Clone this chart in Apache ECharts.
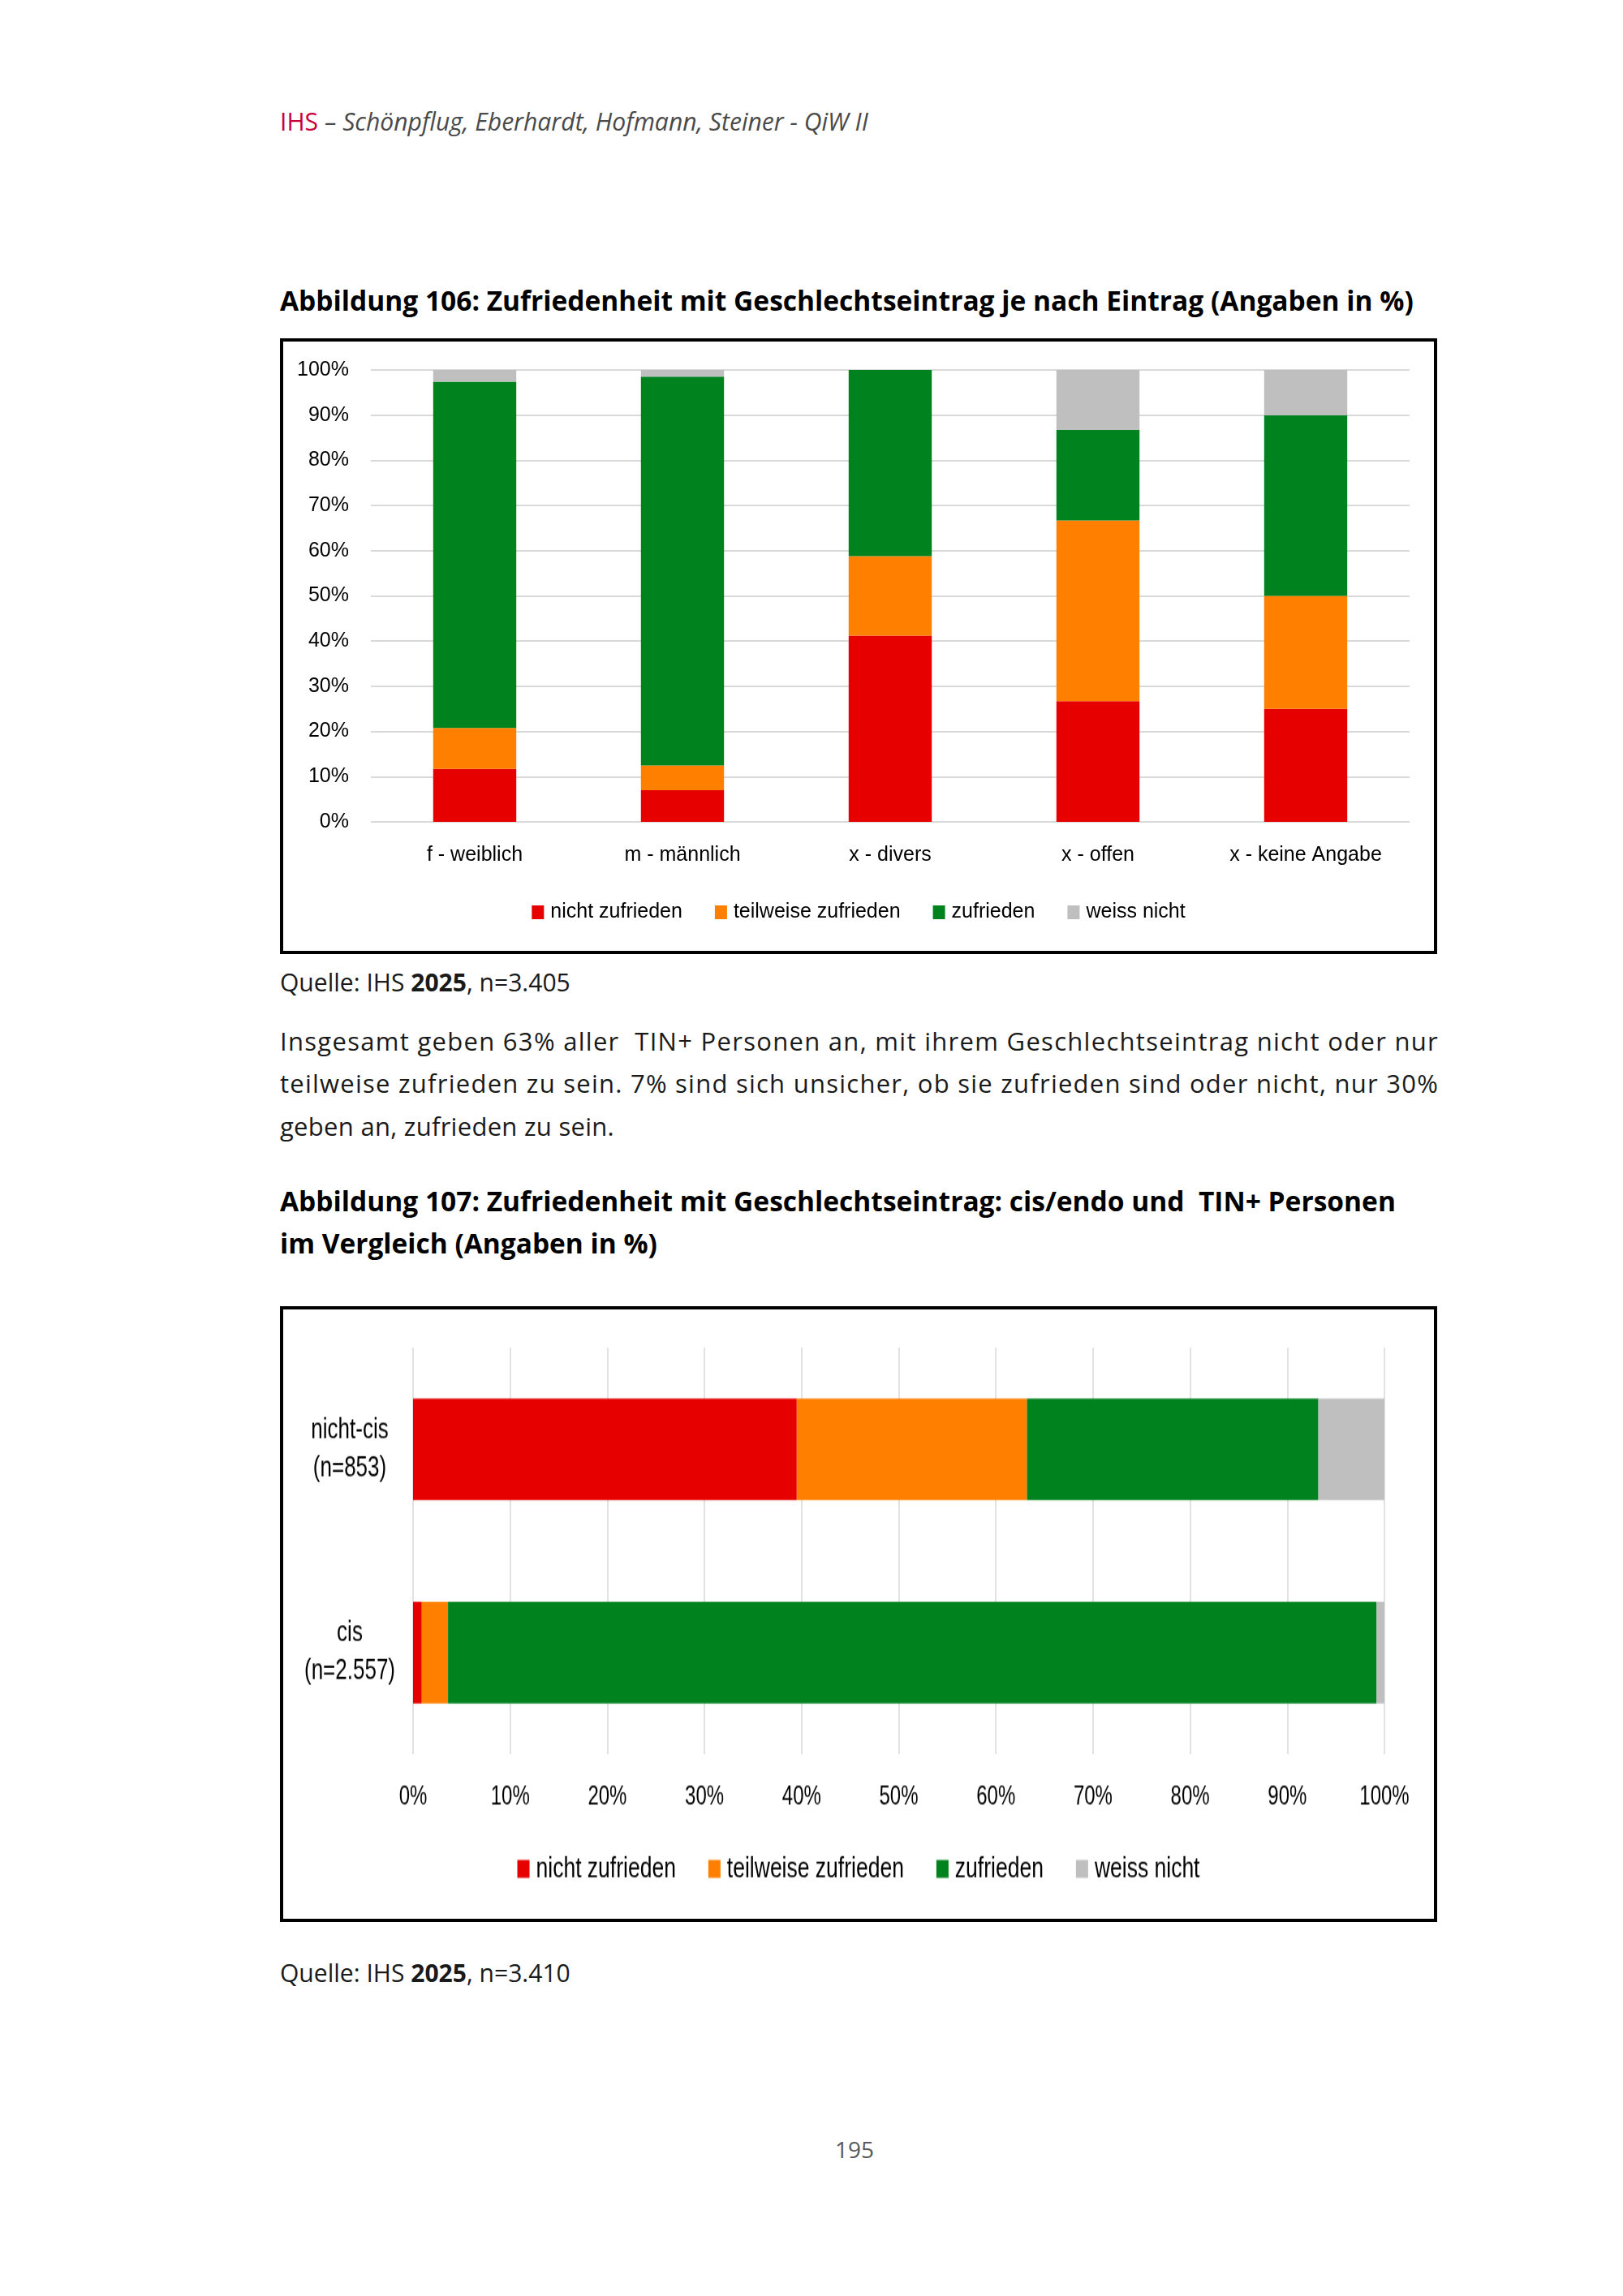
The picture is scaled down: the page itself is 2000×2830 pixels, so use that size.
<!DOCTYPE html>
<html>
<head>
<meta charset="utf-8">
<script src="https://cdn.jsdelivr.net/npm/echarts@6/dist/echarts.min.js"></script>
<style>
  html, body { margin:0; padding:0; background:#fff; }
  #page { position:relative; width:2000px; height:2830px; background:#fff; font-family:"Open Sans", sans-serif; color:#1a1a1a; overflow:hidden; }
  .t { position:absolute; left:345px; white-space:nowrap; }
  .box { position:absolute; left:345px; width:1426px; height:759px; box-sizing:border-box; border:4px solid #000; background:#fff; overflow:hidden; }
</style>
</head>
<body>
<div id="page">
  <div class="t" data-fit="725" style="top:130px; font-size:30px; line-height:40px; font-style:italic; color:#4a4a4a;"><span style="font-style:normal; color:#c8003c;">IHS</span> – Schönpflug, Eberhardt, Hofmann, Steiner - QiW II</div>

  <div class="t" data-fit="1397" style="top:349px; font-size:33px; line-height:42px; font-weight:bold; color:#000;">Abbildung 106: Zufriedenheit mit Geschlechtseintrag je nach Eintrag (Angaben in %)</div>

  <div class="box" id="c1" style="top:417px;"></div>

  <div class="t" data-fit="358" style="top:1190px; font-size:30px; line-height:42px;">Quelle: IHS <b>2025</b>, n=3.405</div>

  <div class="t" data-ls="1428" style="top:1262px; font-size:31px; line-height:42px;">Insgesamt geben 63% aller&nbsp; TIN+ Personen an, mit ihrem Geschlechtseintrag nicht oder nur</div>
  <div class="t" data-ls="1428" style="top:1314px; font-size:31px; line-height:42px;">teilweise zufrieden zu sein. 7% sind sich unsicher, ob sie zufrieden sind oder nicht, nur 30%</div>
  <div class="t" data-ls="412" style="top:1367px; font-size:31px; line-height:42px;">geben an, zufrieden zu sein.</div>

  <div class="t" data-fit="1375" style="top:1459px; font-size:33px; line-height:42px; font-weight:bold; color:#000;">Abbildung 107: Zufriedenheit mit Geschlechtseintrag: cis/endo und&nbsp; TIN+ Personen</div>
  <div class="t" data-fit="465" style="top:1511px; font-size:33px; line-height:42px; font-weight:bold; color:#000;">im Vergleich (Angaben in %)</div>

  <div class="box" style="top:1610px;"><div id="c2" style="width:1418px; height:544px; transform:scaleY(1.3805); transform-origin:0 0;"></div></div>

  <div class="t" data-fit="358" style="top:2411px; font-size:30px; line-height:42px;">Quelle: IHS <b>2025</b>, n=3.410</div>

  <div style="position:absolute; left:953px; width:200px; text-align:center; top:2629px; font-size:28px; line-height:40px; color:#595959;">195</div>
</div>
<script>
// ---------- Data: Abbildung 106 ----------
const categories1 = ['f - weiblich', 'm - männlich', 'x - divers', 'x - offen', 'x - keine Angabe'];
const nichtZufrieden1 = [11.7, 7.0, 41.2, 26.7, 25.0];
const teilweiseZufrieden1 = [9.1, 5.5, 17.6, 40.0, 25.0];
const zufrieden1 = [76.6, 86.0, 41.2, 20.0, 40.0];
const weissNicht1 = [2.6, 1.5, 0, 13.3, 10.0];

// ---------- Data: Abbildung 107 ----------
const categories2 = ['nicht-cis\n(n=853)', 'cis\n(n=2.557)'];
const nichtZufrieden2 = [39.5, 0.9];
const teilweiseZufrieden2 = [23.7, 2.7];
const zufrieden2 = [30.0, 95.6];
const weissNicht2 = [6.8, 0.8];

const seriesNames = ['nicht zufrieden', 'teilweise zufrieden', 'zufrieden', 'weiss nicht'];
const colors = ['#e60000', '#ff7f00', '#00821e', '#bfbfbf'];

const f1 = '"Liberation Sans", Arial, sans-serif';

// fit text widths of the page text
document.querySelectorAll('[data-fit]').forEach(el => {
  const target = +el.dataset.fit;
  const fs = parseFloat(el.style.fontSize);
  const w = el.getBoundingClientRect().width;
  el.style.fontSize = (fs * target / w).toFixed(2) + 'px';
});
document.querySelectorAll('[data-ls]').forEach(el => {
  const target = +el.dataset.ls;
  const w = el.getBoundingClientRect().width;
  const n = el.textContent.length;
  el.style.letterSpacing = ((target - w) / n).toFixed(3) + 'px';
});

function mkSeries(arrs, barWidth) {
  return arrs.map((d, i) => ({
    name: seriesNames[i], type: 'bar', stack: 'total', data: d,
    barWidth: barWidth, itemStyle: { color: colors[i] }
  }));
}

// ---------- Chart 1 ----------
const c1 = echarts.init(document.getElementById('c1'), null, { renderer: 'canvas' });
c1.setOption({
  animation: false,
  color: colors,
  grid: { left: 108, right: 30, top: 35, bottom: 159 },
  legend: {
    top: 686, left: 'center', icon: 'rect', itemWidth: 15, itemHeight: 17, itemGap: 40,
    data: seriesNames,
    textStyle: { fontFamily: f1, fontSize: 25, color: '#000', padding: [0, 0, 0, 3] }
  },
  xAxis: {
    type: 'category', data: categories1,
    axisLine: { show: false }, axisTick: { show: false },
    axisLabel: { margin: 29, fontFamily: f1, fontSize: 25, color: '#000' }
  },
  yAxis: {
    type: 'value', min: 0, max: 100, interval: 10,
    axisLine: { show: false }, axisTick: { show: false },
    axisLabel: { formatter: '{value}%', margin: 27, fontFamily: f1, fontSize: 25, color: '#000' },
    splitLine: { lineStyle: { color: '#d9d9d9', width: 2 } }
  },
  series: mkSeries([nichtZufrieden1, teilweiseZufrieden1, zufrieden1, weissNicht1], '40%')
});

// ---------- Chart 2 (drawn unstretched, then stretched vertically like the original figure) ----------
const c2 = echarts.init(document.getElementById('c2'), null, { renderer: 'canvas' });
c2.setOption({
  animation: false,
  color: colors,
  grid: { left: 160, right: 61, top: 34, bottom: 147 },
  legend: {
    top: 481, left: 'center', icon: 'rect', itemWidth: 15, itemHeight: 16, itemGap: 40,
    data: seriesNames,
    textStyle: { fontFamily: f1, fontSize: 26.5, color: '#000', padding: [0, 0, 0, 3] }
  },
  xAxis: {
    type: 'value', min: 0, max: 100, interval: 10,
    axisLine: { show: false }, axisTick: { show: false },
    axisLabel: { formatter: '{value}%', margin: 26, fontFamily: f1, fontSize: 24, color: '#000' },
    splitLine: { lineStyle: { color: '#d9d9d9', width: 1.5 } }
  },
  yAxis: {
    type: 'category', data: categories2, inverse: true,
    axisLine: { show: false }, axisTick: { show: false },
    axisLabel: { margin: 78, align: 'center', lineHeight: 34, fontFamily: f1, fontSize: 26, color: '#000' }
  },
  series: mkSeries([nichtZufrieden2, teilweiseZufrieden2, zufrieden2, weissNicht2], '50%')
});
</script>
</body>
</html>
